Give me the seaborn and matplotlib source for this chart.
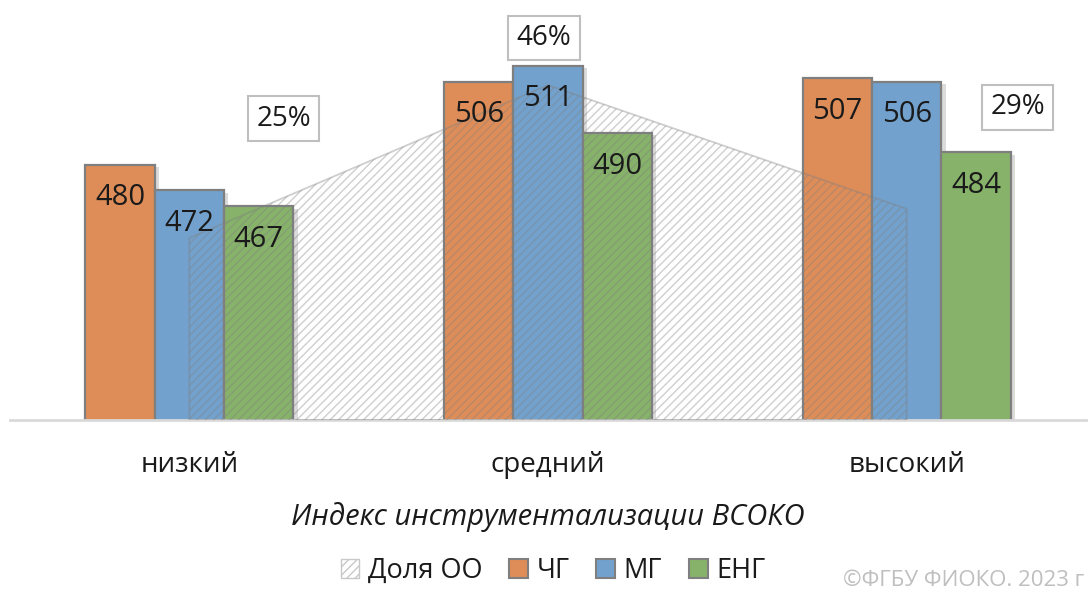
import matplotlib
matplotlib.use("Agg")
import matplotlib.pyplot as plt
import matplotlib.patheffects as pe
from matplotlib.patches import Patch
import numpy as np
import pandas as pd
import seaborn as sns

# --- data ---
levels = ["низкий", "средний", "высокий"]
series = ["ЧГ", "МГ", "ЕНГ"]
chg = [480, 506, 507]
mg = [472, 511, 506]
eng = [467, 490, 484]
share_pct = [25, 46, 29]          # Доля ОО, %
share_name = "Доля ОО"
x_title = "Индекс инструментализации ВСОКО"
credit = "©ФГБУ ФИОКО. 2023 г"

colors = ["#DE8D58", "#72A1CD", "#86B26A"]
edge_gray = "#7F7F7F"

df = pd.DataFrame({
    "level": levels * 3,
    "series": [s for s in series for _ in levels],
    "score": chg + mg + eng,
})

sns.set_theme(style="white")
plt.rcParams["font.family"] = ["Open Sans", "DejaVu Sans"]
plt.rcParams["hatch.linewidth"] = 1.0

fig = plt.figure(figsize=(10.88, 5.93), dpi=100)
ax = fig.add_axes([10 / 1088, (593 - 420) / 593, 1076 / 1088, 415 / 593])

sns.barplot(data=df, x="level", y="score", hue="series", order=levels,
            hue_order=series, palette=colors, width=0.58, saturation=1,
            edgecolor=edge_gray, linewidth=1.6, legend=False, ax=ax)

shadow = [pe.SimplePatchShadow(offset=(3, -2), shadow_rgbFace="#9a9a9a", alpha=0.35),
          pe.Normal()]

ax.set_ylim(400, 530)
ax.set_xlim(-0.5, 2.5)
ax.set_yticks([])
ax.set_ylabel("")
ax.set_xlabel(x_title, fontsize=21, style="italic", color="#1a1a1a", labelpad=17)
ax.tick_params(axis="x", length=0, pad=22, labelsize=20, labelcolor="#1a1a1a")
for s in ["top", "right", "left"]:
    ax.spines[s].set_visible(False)
ax.spines["bottom"].set_color("#D9D9D9")
ax.spines["bottom"].set_linewidth(2)

# share of schools as a hatched area on a secondary axis
ax2 = ax.twinx()
xs = np.arange(len(levels))
ax2.fill_between(xs, [v / 100 for v in share_pct], 0, facecolor="none",
                 hatch="////", edgecolor=(0.5, 0.5, 0.5, 0.38),
                 linewidth=1.3, zorder=3)
ax2.set_ylim(0, 0.57)
ax2.set_yticks([])
for s in ["top", "right", "left", "bottom"]:
    ax2.spines[s].set_visible(False)

# bar value labels, drawn above the hatched area
for cont in ax.containers:
    for p in cont:
        p.set_path_effects(shadow)
        ax2.annotate(f"{p.get_height():.0f}",
                     (p.get_x() + p.get_width() / 2, p.get_height()),
                     xycoords=ax.transData,
                     xytext=(0, -24), textcoords="offset points",
                     ha="center", va="center", fontsize=21, color="#1a1a1a",
                     zorder=6)

offsets = [(68, 86), (-3, 34), (80, 73)]
for xi, v, off in zip(xs, share_pct, offsets):
    ax2.annotate(f"{v}%", (xi, v / 100), xytext=off, textcoords="offset points",
                 ha="center", va="center", fontsize=20, color="#1a1a1a",
                 bbox=dict(boxstyle="square,pad=0.3", fc="white",
                           ec="#BFBFBF", lw=1.5), zorder=7)

handles = [Patch(facecolor="white", edgecolor="#C8C8C8", hatch="////",
                 linewidth=1.0, label=share_name)]
handles += [Patch(facecolor=c, edgecolor=edge_gray, linewidth=1.5, label=s)
            for c, s in zip(colors, series)]
fig.legend(handles=handles, loc="center", bbox_to_anchor=(553 / 1088, 1 - 571 / 593),
           ncol=4, frameon=False, fontsize=19.5, handlelength=0.7,
           handleheight=0.7, handletextpad=0.3, columnspacing=1.0,
           labelcolor="#1a1a1a")

fig.text(1084 / 1088, 1 - 580 / 593, credit, ha="right", va="center",
         fontsize=16, color="#BFBFBF")

fig.savefig("out.png", dpi=100)
